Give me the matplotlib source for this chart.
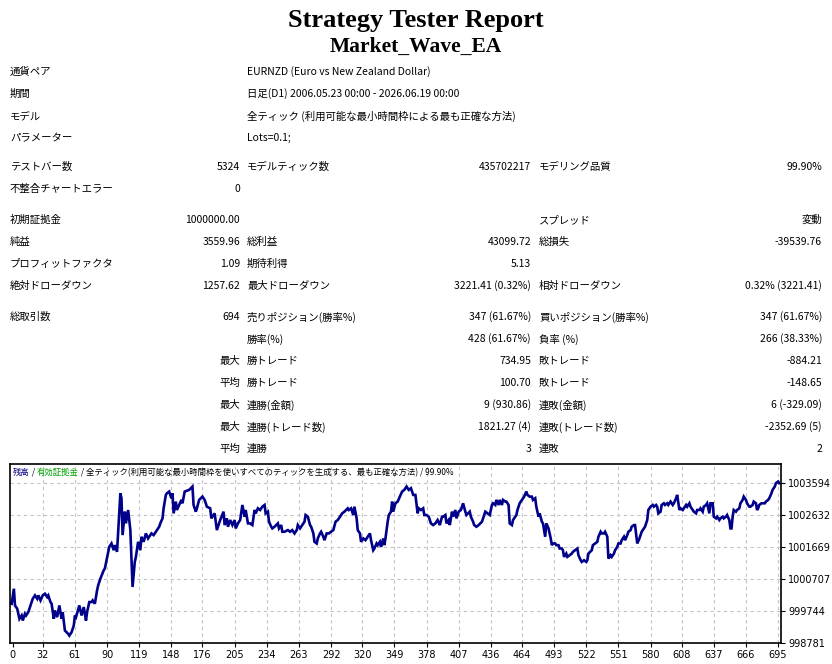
import matplotlib
matplotlib.use('Agg')
import matplotlib.pyplot as plt

plt.rcParams['font.family'] = ['Noto Sans CJK JP', 'DejaVu Sans']

# ---------------- data ----------------
title = "Strategy Tester Report"
subtitle = "Market_Wave_EA"

info_labels = ["通貨ペア", "期間", "モデル", "パラメーター"]
info_values = ["EURNZD (Euro vs New Zealand Dollar)",
               "日足(D1) 2006.05.23 00:00 - 2026.06.19 00:00",
               "全ティック (利用可能な最小時間枠による最も正確な方法)",
               "Lots=0.1;"]

stats_rows = [
    ["テストバー数", "5324", "モデルティック数", "435702217", "モデリング品質", "99.90%"],
    ["不整合チャートエラー", "0", "", "", "", ""],
    ["初期証拠金", "1000000.00", "", "", "スプレッド", "変動"],
    ["純益", "3559.96", "総利益", "43099.72", "総損失", "-39539.76"],
    ["プロフィットファクタ", "1.09", "期待利得", "5.13", "", ""],
    ["絶対ドローダウン", "1257.62", "最大ドローダウン", "3221.41 (0.32%)", "相対ドローダウン", "0.32% (3221.41)"],
    ["総取引数", "694", "売りポジション(勝率%)", "347 (61.67%)", "買いポジション(勝率%)", "347 (61.67%)"],
    ["", "", "勝率(%)", "428 (61.67%)", "負率 (%)", "266 (38.33%)"],
    ["", "最大", "勝トレード", "734.95", "敗トレード", "-884.21"],
    ["", "平均", "勝トレード", "100.70", "敗トレード", "-148.65"],
    ["", "最大", "連勝(金額)", "9 (930.86)", "連敗(金額)", "6 (-329.09)"],
    ["", "最大", "連勝(トレード数)", "1821.27 (4)", "連敗(トレード数)", "-2352.69 (5)"],
    ["", "平均", "連勝", "3", "連敗", "2"],
]

chart_header_parts = ["残高", " / ", "有効証拠金",
                      " / 全ティック(利用可能な最小時間枠を使いすべてのティックを生成する、最も正確な方法) / 99.90%"]

x_tick_labels = ["0", "32", "61", "90", "119", "148", "176", "205", "234", "263", "292", "320",
                 "349", "378", "407", "436", "464", "493", "522", "551", "580", "608", "637", "666", "695"]
y_tick_values = [998781, 999744, 1000707, 1001669, 1002632, 1003594]

trade_no = [0, 4, 6, 7, 9, 11, 13, 14, 16, 17, 19, 21, 23, 25, 27, 28, 30, 32, 34, 36, 37, 39, 40, 42, 43, 45,
            47, 49, 50, 52, 55, 56, 58, 60, 61, 62, 65, 67, 69, 71, 72, 74, 76, 77, 79, 81, 82, 84, 87, 88, 91,
            92, 94, 96, 97, 99, 100, 101, 102, 103, 104, 106, 107, 109, 111, 112, 113, 115, 116, 118, 120, 121,
            123, 125, 127, 130, 132, 134, 137, 138, 140, 141, 143, 144, 146, 148, 149, 150, 152, 153, 155, 157,
            158, 160, 164, 167, 168, 170, 171, 173, 176,
            178, 180, 183, 184, 186, 187, 189, 190, 192, 195, 196, 198, 199, 201, 203, 205, 206, 208, 210, 212,
            214, 215, 217, 219, 221, 223, 224, 226, 228, 230, 232, 233, 235, 236, 238, 239, 241, 244, 245, 247,
            248, 250, 253, 255, 257, 259, 261, 262, 264, 265, 268, 269, 271, 273, 274, 276, 277, 279, 280, 282,
            283, 285, 286, 288, 290, 292, 294, 296, 298, 300, 302, 304, 307, 308, 310, 312, 313, 315, 316, 318,
            319, 321, 323, 325, 327, 328, 330, 331, 333, 334, 336, 337, 339, 340, 341, 343, 344, 346,
            347, 348, 350, 352, 354, 356, 358, 360, 362, 364, 366, 368, 370, 371, 373, 375, 376, 378, 380, 382,
            384, 386, 388, 390, 392, 393, 395, 396, 398, 399, 401, 402, 404, 405, 407, 409, 411, 413, 414, 417,
            418, 420, 421, 423, 425, 428, 429, 431, 433, 435, 437, 438, 440, 441, 443, 444, 446, 447, 449, 450,
            452, 453, 455, 456, 459, 460, 462, 465, 466, 468, 469, 471, 473, 474, 476, 477, 479, 480, 482, 483,
            485, 486, 488, 490, 491, 492, 494, 495, 497, 498, 500, 501, 502, 504, 505, 507, 509, 510, 512, 514,
            515, 517, 518, 520, 522, 523,
            524, 527, 528, 530, 532, 533, 535, 536, 538, 539, 541, 542, 544, 545, 547, 548, 550, 551, 553, 554,
            556, 557, 559, 560, 562, 563, 565, 566, 568, 570, 571, 572, 574, 575, 577, 578, 580, 582, 583, 585,
            586, 587, 589, 590, 592, 593, 595, 596, 598, 600, 601, 603, 604, 606, 607, 609, 610, 612, 613, 615,
            616, 618, 619, 621, 622, 624, 625, 627, 628, 630, 631, 633, 634, 636, 637, 639, 640, 642, 643, 645,
            646, 648, 649, 651, 652, 653, 654, 655, 657, 658, 660, 661, 663, 664, 666, 667, 669, 670, 672, 673,
            675, 676, 677, 678, 680, 681, 683, 684, 686, 687, 689, 690, 692, 693, 695, 696]

balance = [1000000, 999960, 1000413, 999910, 999810, 999507, 999608, 999457, 999659, 999608, 999709, 999910,
           1000111, 1000212, 1000111, 1000212, 1000061, 1000212, 1000262, 1000162, 1000212, 1000011, 999961,
           999507, 999760, 999558, 999910, 999507, 999709, 999155, 999054, 999004, 999105, 999306, 999608,
           999558, 999910, 999608, 999860, 999457, 999709, 1000011, 1000011, 1000061, 999961, 1000363, 1000514,
           1000716, 1000967, 1001017, 1001520, 1001671, 1001772, 1001570, 1001721, 1001520, 1002124, 1002728,
           1003281, 1003130, 1002023, 1002728, 1002376, 1002778, 1002174, 1001319, 1000464, 1001218, 1001369,
           1001822, 1001570, 1001973, 1001822, 1002074, 1001923, 1002074, 1002023, 1002124, 1002275, 1002376,
           1002527, 1002828, 1003231, 1003281, 1003332, 1003130, 1003281, 1002677, 1003030, 1002778, 1002929,
           1003080, 1002979, 1003332, 1003382, 1003482, 1002929, 1002728, 1002828, 1003080, 1003180,
           1003080, 1002878, 1002828, 1002527, 1002627, 1002677, 1002174, 1002275, 1002476, 1002728, 1002325,
           1002527, 1002275, 1002476, 1002325, 1002476, 1002225, 1002376, 1002476, 1002929, 1002577, 1002778,
           1002376, 1002376, 1002325, 1002778, 1002677, 1002828, 1002778, 1002878, 1002929, 1002677, 1002728,
           1002426, 1002275, 1002225, 1002275, 1002376, 1002225, 1002325, 1002124, 1002124, 1002174, 1002124,
           1002174, 1002074, 1002174, 1002325, 1002225, 1002275, 1002426, 1002627, 1002577, 1002325, 1002275,
           1002074, 1001822, 1001772, 1001923, 1002074, 1002124, 1001973, 1001872, 1002074, 1002074, 1002124,
           1002174, 1002426, 1002476, 1002577, 1002677, 1002728, 1002828, 1002778, 1002828, 1002627, 1002878,
           1002527, 1002174, 1002074, 1001822, 1001923, 1001872, 1001973, 1002074, 1001872, 1001570, 1001621,
           1001772, 1001721, 1001822, 1001671, 1001923, 1001721, 1001923, 1002426, 1002627, 1002728,
           1003030, 1002728, 1002979, 1003030, 1003180, 1003332, 1003382, 1003482, 1003382, 1003432, 1003231,
           1003231, 1002677, 1002828, 1002778, 1002828, 1002627, 1002627, 1002577, 1002376, 1002325, 1002376,
           1002476, 1002325, 1002577, 1002577, 1002627, 1002376, 1002476, 1002325, 1002728, 1002577, 1002778,
           1002527, 1002728, 1002778, 1002979, 1002728, 1002627, 1002728, 1002577, 1002426, 1002325, 1002275,
           1002325, 1002426, 1002527, 1002728, 1002677, 1002627, 1002929, 1002979, 1002929, 1003080, 1002929,
           1003080, 1002929, 1003080, 1003030, 1003030, 1002929, 1002376, 1002325, 1002476, 1002627, 1002778,
           1002979, 1003130, 1003180, 1003332, 1003231, 1003180, 1003180, 1003080, 1003130, 1002878, 1002577,
           1002677, 1002426, 1002376, 1001973, 1002376, 1002225, 1001923, 1001721, 1001772, 1001772, 1001721,
           1001721, 1001621, 1001621, 1001570, 1001369, 1001469, 1001369, 1001419, 1001469, 1001520, 1001570,
           1001621, 1001419, 1001268, 1001218, 1001268, 1001218, 1001268,
           1001469, 1001570, 1001721, 1001772, 1001822, 1001973, 1002124, 1002074, 1002074, 1002124, 1001973,
           1001319, 1001419, 1001369, 1001469, 1001570, 1001671, 1001772, 1001772, 1001872, 1001973, 1001872,
           1002023, 1002124, 1002174, 1002275, 1002325, 1002325, 1001772, 1001923, 1002023, 1002124, 1002225,
           1002275, 1002476, 1002778, 1002878, 1002929, 1002878, 1002929, 1002878, 1002677, 1002728, 1002929,
           1002979, 1002929, 1002979, 1002929, 1003030, 1002929, 1002979, 1003130, 1003231, 1002778, 1002828,
           1002778, 1002828, 1002929, 1002878, 1002979, 1002878, 1002778, 1002728, 1002677, 1002778, 1002778,
           1002828, 1002728, 1002878, 1002929, 1002979, 1002677, 1002979, 1002979, 1002577, 1002527, 1002577,
           1002476, 1002527, 1002577, 1002527, 1002577, 1002627, 1002476, 1002225, 1002225, 1002577, 1002778,
           1002728, 1002778, 1002828, 1002979, 1003080, 1003180, 1003080, 1002979, 1002878, 1002878, 1002929,
           1003030, 1002979, 1002778, 1002828, 1002929, 1002979, 1002979, 1002979, 1003030, 1003080, 1003130,
           1003281, 1003382, 1003482, 1003583, 1003633, 1003583]

# ---------------- figure ----------------
W, H = 832, 664
fig = plt.figure(figsize=(W / 100, H / 100), dpi=100)


def ftext(x, y, s, **kw):
    fig.text(x / W, 1 - y / H, s, va='center', **kw)


fig.text(416 / W, 1 - 20 / H, title, ha='center', va='center',
         family='Liberation Serif', weight='bold', fontsize=19)
fig.text(416 / W, 1 - 47 / H, subtitle, ha='center', va='center',
         family='Liberation Serif', weight='bold', fontsize=15.5)

fs = 7.5
info_y = [72, 94, 116, 138]
for y, lab, val in zip(info_y, info_labels, info_values):
    ftext(10, y, lab, fontsize=fs)
    ftext(247, y, val, fontsize=fs)

stats_y = [167, 189, 220, 242, 264, 286, 317, 339, 361, 383, 405, 427, 449]
for y, row in zip(stats_y, stats_rows):
    l1, v1, l2, v2, l3, v3 = row
    ftext(10, y, l1, fontsize=fs)
    ftext(240, y, v1, fontsize=fs, ha='right')
    ftext(247, y, l2, fontsize=fs)
    ftext(531, y, v2, fontsize=fs, ha='right')
    ftext(539, y, l3, fontsize=fs)
    ftext(822, y, v3, fontsize=fs, ha='right')

# ---------------- chart ----------------
left, right, top, bottom = 10, 781, 464, 643
ax = fig.add_axes([left / W, 1 - bottom / H, (right - left) / W, (bottom - top) / H])
ax.plot(trade_no, balance, color='#00008B', lw=1.9, solid_joinstyle='miter')
ax.set_xlim(2.5, 697.6)
ax.set_ylim(998781, 1004160)

xt = [int(s) for s in x_tick_labels]
xt[0] = 5
ax.set_xticks(xt)
ax.set_xticklabels(x_tick_labels, fontsize=7, family='DejaVu Sans')
ax.yaxis.tick_right()
ax.set_yticks(y_tick_values)
ax.set_yticklabels([str(v) for v in y_tick_values], fontsize=7, family='DejaVu Sans')
ax.tick_params(axis='both', length=3, width=0.8, pad=2, color='black')
ax.grid(True, color='#c4c4c4', ls=(0, (3, 3)), lw=0.8)
ax.get_xgridlines()[0].set_visible(False)
for sp in ax.spines.values():
    sp.set_linewidth(1.2)
    sp.set_color('black')

hdr_colors = ['#000080', 'black', '#00A000', 'black']
t = ax.text(3 / (right - left), 1 - 4 / (bottom - top), chart_header_parts[0], transform=ax.transAxes,
            fontsize=6, color=hdr_colors[0], va='top', ha='left')
for part, col in zip(chart_header_parts[1:], hdr_colors[1:]):
    t = ax.annotate(part, xy=(1, 0), xycoords=t, fontsize=6, color=col, va='bottom', ha='left')

fig.savefig('out.png', dpi=100)
